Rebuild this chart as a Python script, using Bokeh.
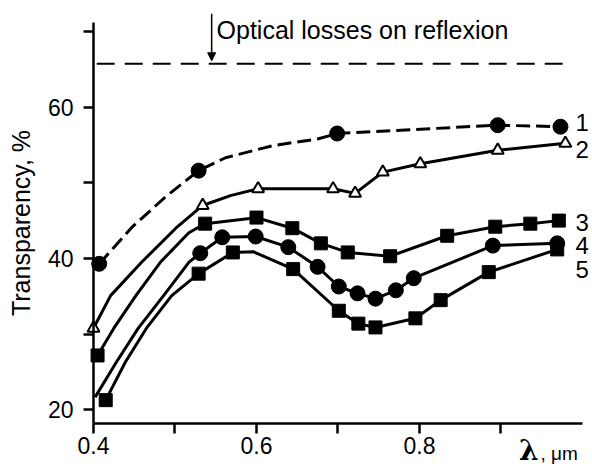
from bokeh.plotting import figure
from bokeh.models import ColumnDataSource, LabelSet, Label, Arrow, NormalHead, FixedTicker
from bokeh.embed import file_html
from bokeh.resources import INLINE
from bokeh.core.properties import value

# ---------------- data ----------------
# curve 1: filled circles, dashed fit
c1_x = [0.407, 0.529, 0.699, 0.896, 0.973]
c1_y = [39.3, 51.6, 56.5, 57.6, 57.4]
c1_line_x = [0.407, 0.447, 0.488, 0.509, 0.529, 0.562, 0.620, 0.676, 0.699, 0.896, 0.973]
c1_line_y = [39.3, 44.1, 48.1, 49.9, 51.6, 53.3, 54.9, 55.8, 56.5, 57.6, 57.4]

# curve 2: open triangles
c2_x = [0.400, 0.534, 0.602, 0.694, 0.721, 0.755, 0.801, 0.896, 0.979]
c2_y = [30.8, 47.0, 49.2, 49.2, 48.6, 51.4, 52.5, 54.3, 55.2]
c2_line_x = [0.400, 0.421, 0.459, 0.501, 0.534, 0.568, 0.602, 0.694, 0.721, 0.755, 0.801, 0.896, 0.979]
c2_line_y = [30.8, 35.1, 39.5, 44.0, 47.0, 48.3, 49.2, 49.2, 48.6, 51.4, 52.5, 54.3, 55.2]

# curve 3: filled squares
c3_x = [0.405, 0.537, 0.600, 0.644, 0.679, 0.712, 0.764, 0.834, 0.893, 0.936, 0.971]
c3_y = [27.2, 44.6, 45.4, 44.0, 42.0, 40.8, 40.3, 43.0, 44.2, 44.6, 45.0]
c3_line_x = [0.405, 0.425, 0.452, 0.482, 0.517, 0.537, 0.600, 0.644, 0.679, 0.712, 0.764, 0.834, 0.893, 0.936, 0.971]
c3_line_y = [27.2, 30.8, 35.1, 39.5, 43.4, 44.6, 45.4, 44.0, 42.0, 40.8, 40.3, 43.0, 44.2, 44.6, 45.0]

# curve 4: filled circles
c4_x = [0.531, 0.558, 0.599, 0.639, 0.675, 0.701, 0.724, 0.746, 0.771, 0.793, 0.890, 0.969]
c4_y = [40.7, 42.8, 42.9, 41.5, 38.9, 36.3, 35.4, 34.7, 35.8, 37.4, 41.7, 42.0]
c4_line_x = [0.402, 0.428, 0.455, 0.486, 0.517, 0.531, 0.558, 0.599, 0.639, 0.675, 0.701, 0.724, 0.746, 0.771, 0.793, 0.890, 0.969]
c4_line_y = [21.7, 26.3, 30.8, 35.1, 39.5, 40.7, 42.8, 42.9, 41.5, 38.9, 36.3, 35.4, 34.7, 35.8, 37.4, 41.7, 42.0]

# curve 5: filled squares
c5_x = [0.415, 0.529, 0.571, 0.645, 0.701, 0.725, 0.746, 0.795, 0.826, 0.885, 0.969]
c5_y = [21.3, 38.0, 40.8, 38.6, 33.1, 31.4, 30.9, 32.1, 34.5, 38.2, 41.2]
c5_line_x = [0.415, 0.439, 0.465, 0.496, 0.529, 0.571, 0.596, 0.645, 0.701, 0.725, 0.746, 0.795, 0.826, 0.885, 0.969]
c5_line_y = [21.3, 26.3, 30.8, 35.1, 38.0, 40.8, 40.9, 38.6, 33.1, 31.4, 30.9, 32.1, 34.5, 38.2, 41.2]

# optical losses on reflexion level
loss_x = [0.404, 0.977]
loss_y = [65.7, 65.7]
arrow_x = 0.545

curve_ids = ["1", "2", "3", "4", "5"]
curve_label_y = [58.0, 54.4, 44.8, 41.7, 38.6]

x_ticks = [0.4, 0.5, 0.6, 0.7, 0.8, 0.9]
x_tick_labels = ["0.4", "", "0.6", "", "0.8", ""]
y_ticks = [20, 30, 40, 50, 60, 70]
y_tick_labels = ["20", "", "40", "", "60", ""]

FONT = "Liberation Sans"

X0, Y0 = 0.4, 18.22          # where the axes cross
p = figure(width=592, height=466,
           x_range=(0.2859, 1.0123), y_range=(12.54, 74.06),
           output_backend="svg", toolbar_location=None,
           min_border=0, min_border_left=0, min_border_right=0,
           min_border_top=0, min_border_bottom=0)
p.xgrid.visible = False
p.ygrid.visible = False
p.outline_line_color = None
p.background_fill_color = "white"
p.border_fill_color = "white"

for ax in (p.xaxis[0], p.yaxis[0]):
    ax.axis_line_width = 2.5
    ax.major_tick_line_width = 2.5
    ax.major_tick_out = 10
    ax.major_tick_in = 0
    ax.minor_tick_line_color = None
    ax.major_label_text_font = FONT
    ax.major_label_text_font_size = "23px"
    ax.major_label_text_color = "black"
    ax.axis_line_color = "black"
    ax.major_tick_line_color = "black"

p.xaxis.fixed_location = Y0
p.xaxis.bounds = (X0, 1.0)
p.xaxis.ticker = FixedTicker(ticks=x_ticks)
p.xaxis.major_label_overrides = {t: l for t, l in zip(x_ticks, x_tick_labels)}
p.xaxis.major_label_standoff = 4

p.yaxis.fixed_location = X0
p.yaxis.bounds = (Y0, 71.2)
p.yaxis.ticker = FixedTicker(ticks=y_ticks)
p.yaxis.major_label_overrides = {t: l for t, l in zip(y_ticks, y_tick_labels)}
p.yaxis.major_label_standoff = 10
p.yaxis.axis_label = "Transparency, %"
p.yaxis.axis_label_text_font = FONT
p.yaxis.axis_label_text_font_size = "25px"
p.yaxis.axis_label_text_font_style = "normal"
p.yaxis.axis_label_text_color = "black"
p.yaxis.axis_label_standoff = 10

# reference loss level
p.line(loss_x, loss_y, line_color="black", line_width=2, line_dash="18 10")
p.add_layout(Arrow(end=NormalHead(size=8, fill_color="black", line_color="black", line_width=1),
                   x_start=arrow_x, y_start=72.3, x_end=arrow_x, y_end=66.1,
                   line_color="black", line_width=1.5))
p.add_layout(Label(x=0.551, y=70.1, text="Optical losses on reflexion", text_font=FONT,
                   text_font_size="25px", text_baseline="middle", text_align="left",
                   text_color="black"))

# curves
p.line(c1_line_x, c1_line_y, line_color="black", line_width=3, line_dash="14 6")
p.scatter(c1_x, c1_y, marker="circle", size=15, fill_color="black", line_color="black")

p.line(c2_line_x, c2_line_y, line_color="black", line_width=3)
p.scatter(c2_x, c2_y, marker="triangle", size=12, fill_color="white", line_color="black", line_width=2)

p.line(c3_line_x, c3_line_y, line_color="black", line_width=3)
p.scatter(c3_x, c3_y, marker="square", size=13, fill_color="black", line_color="black")

p.line(c4_line_x, c4_line_y, line_color="black", line_width=3)
p.scatter(c4_x, c4_y, marker="circle", size=15, fill_color="black", line_color="black")

p.line(c5_line_x, c5_line_y, line_color="black", line_width=3)
p.scatter(c5_x, c5_y, marker="square", size=13, fill_color="black", line_color="black")

# curve numbers
lab_src = ColumnDataSource(dict(x=[0.9914] * len(curve_ids), y=curve_label_y, t=curve_ids))
p.add_layout(LabelSet(x="x", y="y", text="t", source=lab_src, text_font=value(FONT),
                      text_font_size="24px", text_align="left", text_baseline="middle",
                      text_color="black"))

# x-axis title: lambda, um
p.add_layout(Label(x=0.922, y=14.7, text="λ", text_font="DejaVu Serif", text_font_style="bold",
                   text_font_size="28px", text_baseline="middle", text_align="left",
                   text_color="black"))
p.add_layout(Label(x=0.9485, y=14.3, text=", μm", text_font=FONT,
                   text_font_size="19px", text_baseline="middle", text_align="left",
                   text_color="black"))

open("out.html", "w").write(file_html(p, INLINE))
